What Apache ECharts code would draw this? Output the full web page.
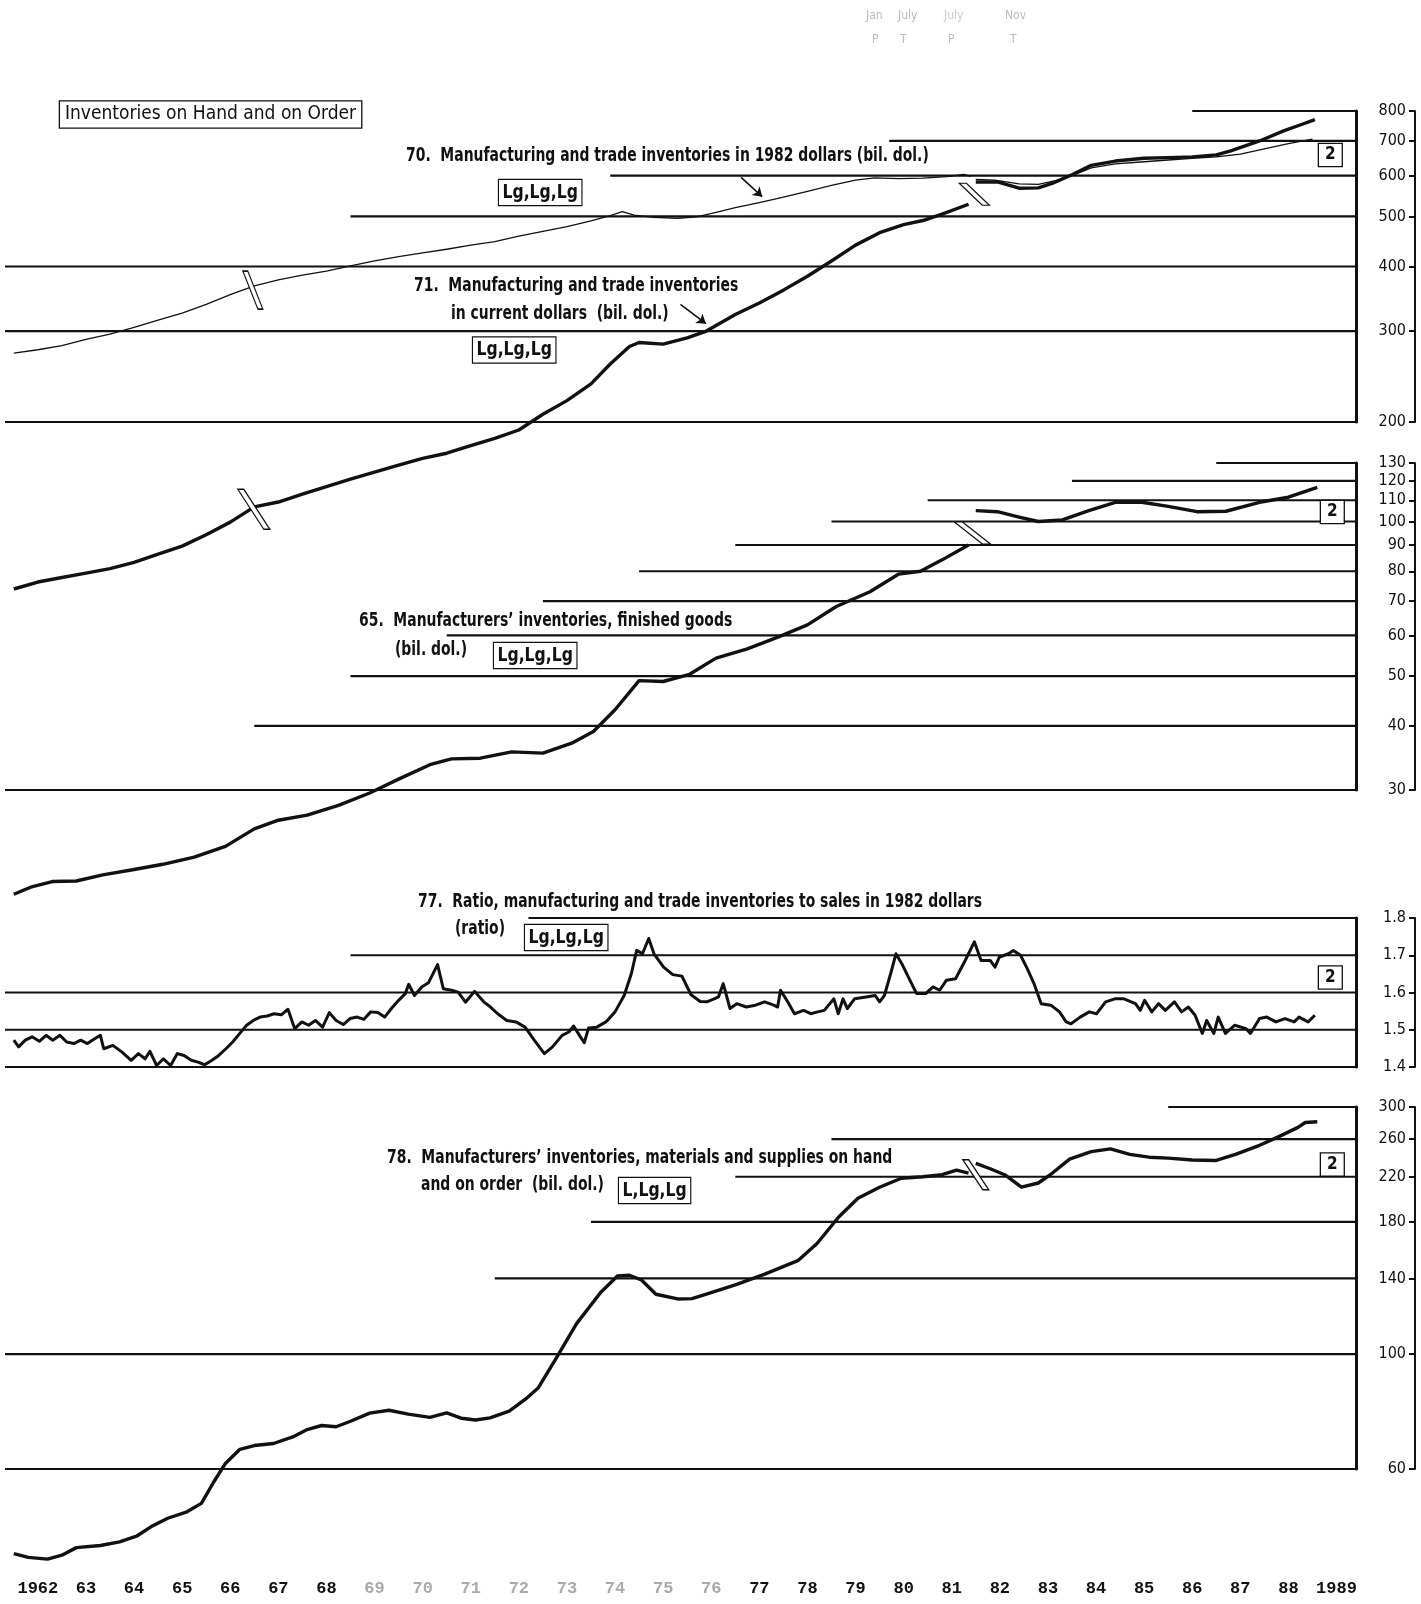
<!DOCTYPE html>
<html>
<head>
<meta charset="utf-8">
<script src="https://cdn.jsdelivr.net/npm/echarts@6/dist/echarts.min.js"></script>
<style>
  html, body { margin: 0; padding: 0; background: #fff; }
  #chart { width: 1421px; height: 1604px; }
</style>
</head>
<body>
<div id="chart"></div>
<script>
// ---- data: [year, value] pairs, monthly readings thinned out ----
const yearLabels = ['1962','63','64','65','66','67','68','69','70','71','72','73','74','75','76','77','78','79','80','81','82','83','84','85','86','87','88','1989'];
const fadedYearLabels = ['69','70','71','72','73','74','75','76'];

// 70. Manufacturing and trade inventories in 1982 dollars (bil. dol.)
const inv1982Old = [[1962.0,272],[1962.5,276],[1963.0,281],[1963.5,289],[1964.0,296],[1964.5,305],[1965.0,315],[1965.5,325],[1966.0,338],[1966.5,353],[1967.0,367],[1967.5,377],[1968.0,385],[1968.5,392],[1969.0,401],[1969.5,410],[1970.0,418],[1970.5,425],[1971.0,432],[1971.5,440],[1972.0,447],[1972.5,458],[1973.0,468],[1973.5,478],[1974.0,490],[1974.4,502],[1974.65,511],[1974.9,503],[1975.3,498],[1975.8,496],[1976.2,499],[1976.6,509],[1977.0,520],[1977.5,532],[1978.0,545],[1978.5,559],[1979.0,574],[1979.5,588],[1979.9,594],[1980.4,592],[1980.9,593],[1981.4,597],[1981.75,603],[1981.9,598]];
const inv1982New = [[1982.0,590],[1982.4,588],[1982.9,578],[1983.3,577],[1983.7,588],[1984.0,600],[1984.4,621],[1984.9,632],[1985.5,638],[1986.0,643],[1986.5,648],[1987.0,652],[1987.5,660],[1988.0,676],[1988.5,692],[1989.0,706]];

// 71. Manufacturing and trade inventories in current dollars (bil. dol.)
const invCurOld = [[1962.0,95],[1962.5,98],[1963.0,100],[1963.5,102],[1964.0,104],[1964.5,107],[1965.0,111],[1965.5,115],[1966.0,121],[1966.5,128],[1967.0,137],[1967.5,140],[1968.0,145],[1968.5,150],[1969.0,155],[1969.5,160],[1970.0,165],[1970.5,170],[1971.0,174],[1971.5,180],[1972.0,186],[1972.5,193],[1973.0,207],[1973.5,220],[1974.0,237],[1974.4,259],[1974.8,280],[1975.0,285],[1975.5,283],[1976.0,291],[1976.4,300],[1977.0,323],[1977.5,340],[1978.0,360],[1978.5,383],[1979.0,410],[1979.5,440],[1980.0,465],[1980.5,482],[1980.9,491],[1981.3,505],[1981.85,528]];
const invCurNew = [[1982.0,583],[1982.45,583],[1982.9,567],[1983.3,568],[1983.6,580],[1984.0,602],[1984.4,628],[1984.9,640],[1985.5,648],[1986.0,650],[1986.5,652],[1987.0,658],[1987.3,670],[1987.9,700],[1988.4,732],[1988.8,755],[1989.05,770]];

// 65. Manufacturers' inventories, finished goods (bil. dol.)
const finGoodsOld = [[1962.0,18.8],[1962.35,19.4],[1962.8,19.9],[1963.3,19.95],[1963.85,20.5],[1964.5,21.0],[1965.1,21.5],[1965.75,22.2],[1966.4,23.3],[1967.0,25.2],[1967.5,26.2],[1968.1,26.8],[1968.75,28.0],[1969.4,29.6],[1970.0,31.5],[1970.65,33.6],[1971.1,34.5],[1971.7,34.6],[1972.35,35.6],[1973.0,35.4],[1973.6,37.0],[1974.05,39.0],[1974.5,43.0],[1975.0,49.0],[1975.5,48.8],[1976.05,50.4],[1976.6,54.2],[1977.25,56.5],[1977.9,59.6],[1978.5,62.9],[1979.1,68.3],[1979.8,73.0],[1980.4,79.0],[1980.85,80.0],[1981.3,84.2],[1981.85,90.0]];
const finGoodsNew = [[1982.0,105],[1982.45,104.5],[1982.9,102],[1983.3,100],[1983.8,100.7],[1984.35,105],[1984.9,109],[1985.45,109],[1986.0,107],[1986.6,104.5],[1987.2,104.7],[1987.9,109],[1988.5,111.5],[1989.1,116.5]];

// 77. Ratio, manufacturing and trade inventories to sales in 1982 dollars
const invSalesRatio = [[1962.0,1.472],[1962.1,1.454],[1962.24,1.472],[1962.38,1.481],[1962.53,1.469],[1962.67,1.485],[1962.81,1.472],[1962.96,1.485],[1963.1,1.467],[1963.25,1.463],[1963.39,1.472],[1963.53,1.463],[1963.68,1.476],[1963.8,1.485],[1963.87,1.449],[1964.06,1.458],[1964.25,1.44],[1964.44,1.418],[1964.59,1.436],[1964.73,1.422],[1964.83,1.442],[1964.97,1.404],[1965.11,1.422],[1965.26,1.404],[1965.4,1.436],[1965.54,1.431],[1965.69,1.418],[1965.83,1.413],[1965.97,1.406],[1966.12,1.418],[1966.26,1.431],[1966.41,1.449],[1966.55,1.467],[1966.69,1.489],[1966.84,1.512],[1966.98,1.525],[1967.12,1.534],[1967.27,1.537],[1967.41,1.543],[1967.56,1.54],[1967.7,1.555],[1967.84,1.503],[1967.99,1.521],[1968.13,1.512],[1968.27,1.525],[1968.42,1.507],[1968.56,1.546],[1968.7,1.525],[1968.85,1.514],[1968.99,1.53],[1969.14,1.534],[1969.28,1.528],[1969.42,1.548],[1969.57,1.546],[1969.71,1.534],[1969.85,1.557],[1970.0,1.579],[1970.14,1.597],[1970.21,1.622],[1970.33,1.592],[1970.48,1.615],[1970.62,1.626],[1970.81,1.675],[1970.93,1.61],[1971.1,1.606],[1971.24,1.601],[1971.39,1.574],[1971.58,1.603],[1971.77,1.575],[1971.91,1.561],[1972.06,1.543],[1972.25,1.525],[1972.44,1.521],[1972.63,1.507],[1972.82,1.472],[1973.03,1.436],[1973.2,1.454],[1973.4,1.485],[1973.54,1.494],[1973.64,1.51],[1973.76,1.485],[1973.86,1.465],[1973.95,1.505],[1974.12,1.507],[1974.31,1.521],[1974.5,1.548],[1974.69,1.592],[1974.84,1.651],[1974.95,1.713],[1975.07,1.704],[1975.2,1.745],[1975.31,1.704],[1975.51,1.668],[1975.7,1.648],[1975.89,1.644],[1976.08,1.594],[1976.27,1.576],[1976.41,1.575],[1976.56,1.583],[1976.65,1.588],[1976.75,1.624],[1976.89,1.557],[1977.03,1.57],[1977.23,1.561],[1977.42,1.566],[1977.61,1.575],[1977.8,1.566],[1977.88,1.561],[1977.94,1.606],[1978.09,1.575],[1978.23,1.543],[1978.42,1.552],[1978.57,1.543],[1978.71,1.548],[1978.85,1.552],[1979.05,1.583],[1979.14,1.543],[1979.24,1.583],[1979.33,1.557],[1979.48,1.583],[1979.72,1.588],[1979.91,1.592],[1980.0,1.575],[1980.1,1.592],[1980.24,1.655],[1980.34,1.704],[1980.48,1.673],[1980.63,1.633],[1980.77,1.597],[1980.96,1.597],[1981.11,1.615],[1981.25,1.606],[1981.39,1.633],[1981.58,1.637],[1981.78,1.686],[1981.97,1.736],[1982.11,1.686],[1982.3,1.686],[1982.4,1.668],[1982.49,1.695],[1982.68,1.704],[1982.78,1.713],[1982.93,1.70],[1983.07,1.664],[1983.21,1.624],[1983.36,1.57],[1983.56,1.566],[1983.74,1.548],[1983.88,1.521],[1983.98,1.516],[1984.17,1.534],[1984.36,1.548],[1984.51,1.543],[1984.7,1.575],[1984.89,1.583],[1985.08,1.583],[1985.32,1.57],[1985.42,1.552],[1985.51,1.579],[1985.66,1.548],[1985.8,1.57],[1985.94,1.552],[1986.13,1.575],[1986.28,1.548],[1986.42,1.561],[1986.56,1.539],[1986.71,1.49],[1986.8,1.525],[1986.95,1.49],[1987.04,1.534],[1987.19,1.49],[1987.38,1.512],[1987.62,1.503],[1987.71,1.49],[1987.9,1.53],[1988.05,1.534],[1988.24,1.521],[1988.43,1.53],[1988.62,1.521],[1988.72,1.534],[1988.91,1.521],[1989.05,1.539]];

// 78. Manufacturers' inventories, materials and supplies on hand and on order (bil. dol.)
const materialsOld = [[1962.0,41.2],[1962.3,40.5],[1962.7,40.2],[1963.0,40.9],[1963.3,42.3],[1963.8,42.7],[1964.2,43.4],[1964.55,44.5],[1964.85,46.4],[1965.2,48.2],[1965.6,49.6],[1965.9,51.5],[1966.15,56.5],[1966.4,61.5],[1966.7,65.5],[1967.0,66.6],[1967.4,67.2],[1967.8,69.2],[1968.1,71.5],[1968.4,72.8],[1968.7,72.4],[1969.0,74.2],[1969.4,76.9],[1969.8,77.9],[1970.2,76.6],[1970.65,75.5],[1971.0,77.0],[1971.3,75.2],[1971.6,74.6],[1971.9,75.3],[1972.3,77.6],[1972.65,82.0],[1972.9,86.0],[1973.3,99.0],[1973.7,114.5],[1974.2,131.5],[1974.55,141.5],[1974.8,142.0],[1975.05,139.0],[1975.35,130.5],[1975.8,127.8],[1976.1,128.0],[1976.4,130.5],[1977.0,136.0],[1977.6,142.5],[1978.3,151.5],[1978.7,163.5],[1979.15,184.0],[1979.55,200.0],[1980.0,210.0],[1980.45,218.5],[1980.9,220.0],[1981.3,222.0],[1981.6,226.5],[1981.85,223.5]];
const materialsNew = [[1982.0,233.5],[1982.3,228],[1982.6,222],[1982.95,210],[1983.3,214],[1983.55,222],[1983.95,238],[1984.4,246],[1984.8,249],[1985.2,243],[1985.6,240],[1986.0,239],[1986.5,237],[1987.0,236.5],[1987.4,243],[1987.9,253],[1988.3,263],[1988.7,274],[1988.85,280],[1989.1,281]];

// scale ticks and the year each horizontal rule begins at
const ticksP1 = [200,300,400,500,600,700,800];
const ruleStartP1 = [null,null,null,1969.0,1974.4,1980.2,1986.5];
const ticksP2 = [30,40,50,60,70,80,90,100,110,120,130];
const ruleStartP2 = [null,1967.0,1969.0,1971.0,1973.0,1975.0,1977.0,1979.0,1981.0,1984.0,1987.0];
const ticksP3 = [1.4,1.5,1.6,1.7,1.8];
const ruleStartP3 = [null,null,null,1969.0,1972.7];
const ticksP4 = [60,100,140,180,220,260,300];
const ruleStartP4 = [null,null,1972.0,1974.0,1977.0,1979.0,1986.0];

// ---- layout ----
const INK = '#111';
const NARROW = '"Liberation Sans Narrow", "DejaVu Sans Condensed", "Arial Narrow", sans-serif';
const MONO = '"Liberation Mono", "DejaVu Sans Mono", monospace';
const XMIN = 1961.817, XMAX = 1989.905;
const PLOT_LEFT = 5, PLOT_RIGHT = 1356;
const L10 = Math.log10;

const option = { animation: false, backgroundColor: '#fff', grid: [], xAxis: [], yAxis: [], series: [], graphic: [] };

function addGrid(top, height) {
  option.grid.push({ left: PLOT_LEFT, width: PLOT_RIGHT - PLOT_LEFT, top, height });
  const g = option.grid.length - 1;
  option.xAxis.push({ type: 'value', gridIndex: g, min: XMIN, max: XMAX, show: false });
  return g;
}
function addY(cfg) {
  option.yAxis.push(Object.assign({
    type: 'value', splitLine: { show: false }, axisLine: { show: false },
    axisTick: { show: false }, axisLabel: { show: false }
  }, cfg));
  return option.yAxis.length - 1;
}

// one chart panel: a data grid that may reach below the scale, plus a grid for the scale & rules
function panel(p) {
  const tf = p.log ? L10 : (v => v);
  const unitPx = (p.bottomY - p.topY) / (tf(p.top) - tf(p.bottom));
  const floor = p.floor !== undefined ? p.floor : p.bottom;
  const dg = addGrid(p.topY, unitPx * (tf(p.top) - tf(floor)));
  const dy = addY({ gridIndex: dg, min: tf(floor), max: tf(p.top) });
  const ag = addGrid(p.topY, p.bottomY - p.topY);
  const tickVals = p.ticks.map(tf);
  addY({ gridIndex: ag, min: tf(p.bottom), max: tf(p.top), position: 'right',
    axisLine: { show: true, lineStyle: { color: INK, width: 3 } } });
  const ay = addY({ gridIndex: ag, min: tf(p.bottom), max: tf(p.top), position: 'right', offset: 59,
    axisLine: { show: true, lineStyle: { color: INK, width: 2 } },
    axisTick: { show: true, inside: true, length: 6, customValues: tickVals, lineStyle: { color: INK, width: 2 } },
    axisLabel: { show: true, inside: true, margin: 9, customValues: tickVals,
      formatter: v => p.fmt(p.log ? Math.pow(10, v) : v),
      fontFamily: NARROW, fontSize: 16, color: INK } });
  p.ticks.forEach((t, i) => {
    const start = p.starts[i] === null ? XMIN : p.starts[i];
    option.series.push({ type: 'line', xAxisIndex: ag, yAxisIndex: ay, silent: true, clip: false,
      symbol: 'none', z: 1, lineStyle: { color: INK, width: 2.2 },
      data: [[start, tf(t)], [XMAX, tf(t)]] });
  });
  return { grid: dg, y: dy, tf };
}

function addLine(pn, data, width, extra) {
  option.series.push(Object.assign({
    type: 'line', xAxisIndex: pn.grid, yAxisIndex: pn.y, clip: false, symbol: 'none',
    z: 3, lineStyle: { color: INK, width, join: 'round' },
    data: data.map(d => [d[0], pn.tf(d[1])])
  }, extra || {}));
}

// scale-break "cut" mark: white band with black edges
function cutMark(pn, year, value, w, h, d) {
  return { coord: [year, pn.tf(value)], symbol: `path://M0,0 L${d},0 L${w},${h} L${w - d},${h} Z`,
    symbolSize: [w, h], itemStyle: { color: '#fff', borderColor: INK, borderWidth: 1.3 }, label: { show: false } };
}
function pointer(pn, y0, v0, y1, v1) {
  return { silent: true, symbol: ['none', 'arrow'], symbolSize: 9, label: { show: false },
    lineStyle: { color: INK, width: 1.6, type: 'solid' },
    data: [[{ coord: [y0, pn.tf(v0)] }, { coord: [y1, pn.tf(v1)] }]] };
}

const fmtInt = v => String(Math.round(v));
const P1 = panel({ log: true, top: 800, bottom: 200, topY: 111, bottomY: 422, floor: 80, ticks: ticksP1, starts: ruleStartP1, fmt: fmtInt });
const P2 = panel({ log: true, top: 130, bottom: 30, topY: 463, bottomY: 790, floor: 15, ticks: ticksP2, starts: ruleStartP2, fmt: fmtInt });
const P3 = panel({ log: false, top: 1.8, bottom: 1.4, topY: 918, bottomY: 1067, ticks: ticksP3, starts: ruleStartP3, fmt: v => v.toFixed(1) });
const P4 = panel({ log: true, top: 300, bottom: 60, topY: 1107, bottomY: 1469, floor: 35, ticks: ticksP4, starts: ruleStartP4, fmt: fmtInt });

// series 70 (thin) and 71 (heavy)
addLine(P1, inv1982Old, 1.3, { markPoint: { data: [cutMark(P1, 1966.97, 360, 20, 38, 5)] },
  markLine: pointer(P1, 1977.12, 595, 1977.56, 546) });
addLine(P1, invCurOld, 3.4, { markPoint: { data: [cutMark(P1, 1966.99, 135.5, 32, 40, 6)] },
  markLine: pointer(P1, 1975.86, 338, 1976.39, 310) });
addLine(P1, invCurNew, 3.4, { markPoint: { data: [cutMark(P1, 1981.97, 552, 30, 22, 7)] } });
addLine(P1, inv1982New, 1.3, { z: 4 });

// series 65
addLine(P2, finGoodsOld, 3.4);
addLine(P2, finGoodsNew, 3.4, { markPoint: { data: [cutMark(P2, 1981.93, 95, 36, 22, 8)] } });

// series 77
addLine(P3, invSalesRatio, 3.0);

// series 78
addLine(P4, materialsOld, 3.4);
addLine(P4, materialsNew, 3.4, { markPoint: { data: [cutMark(P4, 1982.0, 222, 26, 30, 6)] } });

// calendar-year labels along the bottom
const yg = addGrid(1575, 1);
option.xAxis[yg] = { type: 'value', gridIndex: yg, min: XMIN, max: XMAX, position: 'bottom',
  axisLine: { show: false }, axisTick: { show: false }, splitLine: { show: false },
  axisLabel: { show: true, margin: 4, customValues: yearLabels.map((_, i) => 1962.5 + i),
    formatter: v => { const s = yearLabels[Math.round(v - 1962.5)]; return fadedYearLabels.includes(s) ? '{f|' + s + '}' : s; },
    fontFamily: MONO, fontWeight: 'bold', fontSize: 17, color: INK,
    rich: { f: { color: '#aaa', fontFamily: MONO, fontWeight: 'bold', fontSize: 17 } } } };
addY({ gridIndex: yg, min: 0, max: 1 });

// ---- captions ----
const CAP_SCALE = 0.815;
const T = (x, y, text, o, sx) => ({ type: 'text', x, y, z: 50, scaleX: sx || 1,
  style: Object.assign({ text, font: 'bold 19px ' + NARROW, fill: INK, align: 'left', verticalAlign: 'middle' }, o || {}) });
const cap = (x, y, text) => T(x, y, text, null, CAP_SCALE);
const boxed = (x, y, text, o, sx) => T(x, y, text, Object.assign({ borderColor: INK, borderWidth: 1.3, backgroundColor: '#fff', padding: [3, 4, 2, 4] }, o || {}), sx);
const timing = (x, y, text) => boxed(x, y, text, { font: 'bold 20px ' + NARROW }, 0.87);
const note2 = (x, y) => boxed(x, y, '2', { font: 'bold 17px ' + NARROW, padding: [3, 6, 2, 6] });
const faint = (x, y, text, c) => T(x, y, text, { font: '12px ' + NARROW, fill: c || '#bbb' });

option.graphic = [
  boxed(60, 114.5, 'Inventories on Hand and on Order', { font: '19px ' + NARROW, padding: [4, 5, 3, 5] }),
  cap(406, 156, '70.  Manufacturing and trade inventories in 1982 dollars (bil. dol.)'),
  timing(499, 192.5, 'Lg,Lg,Lg'),
  cap(414, 286, '71.  Manufacturing and trade inventories'),
  cap(451, 314, 'in current dollars  (bil. dol.)'),
  timing(473, 350, 'Lg,Lg,Lg'),
  cap(359, 621, '65.  Manufacturers\u2019 inventories, finished goods'),
  cap(395, 650, '(bil. dol.)'),
  timing(494, 655.5, 'Lg,Lg,Lg'),
  cap(418, 902, '77.  Ratio, manufacturing and trade inventories to sales in 1982 dollars'),
  cap(455, 929, '(ratio)'),
  timing(525, 937.5, 'Lg,Lg,Lg'),
  cap(387, 1158, '78.  Manufacturers\u2019 inventories, materials and supplies on hand'),
  cap(421, 1185, 'and on order  (bil. dol.)'),
  timing(619, 1190.5, 'L,Lg,Lg'),
  note2(1319, 155),
  note2(1321, 512),
  note2(1319, 977.5),
  note2(1321, 1164.5),
  // faint business-cycle turning-point header
  faint(866, 16, 'Jan'), faint(898, 16, 'July'), faint(944, 16, 'July', '#ccc'), faint(1005, 16, 'Nov'),
  faint(872, 40, 'P'), faint(900, 40, 'T'), faint(948, 40, 'P'), faint(1010, 40, 'T')
];

const chart = echarts.init(document.getElementById('chart'), null, { renderer: 'canvas' });
chart.setOption(option);
</script>
</body>
</html>
